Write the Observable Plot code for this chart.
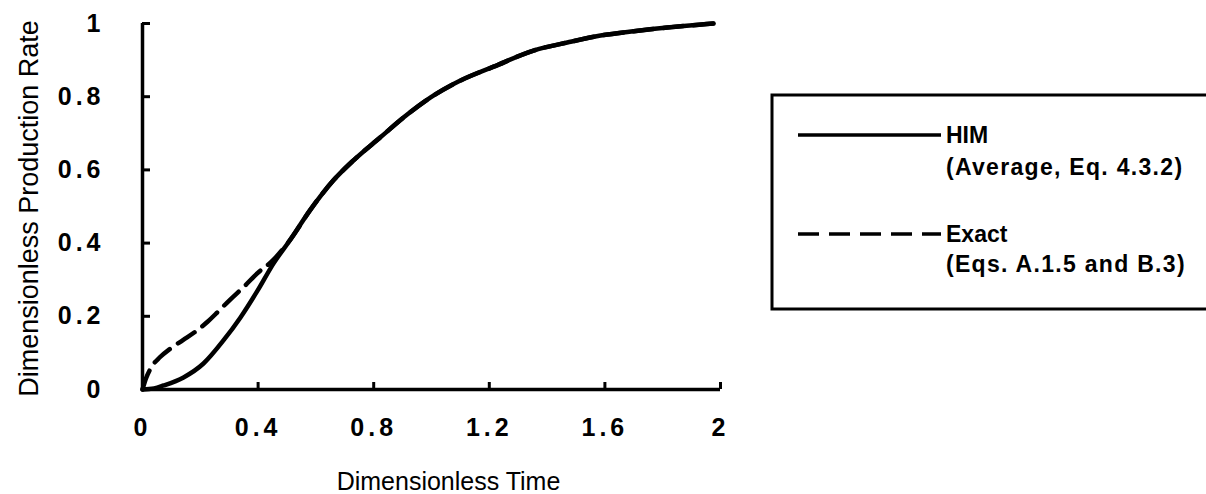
<!DOCTYPE html>
<html>
<head>
<meta charset="utf-8">
<script src="https://cdn.jsdelivr.net/npm/d3@7"></script>
<script src="https://cdn.jsdelivr.net/npm/@observablehq/plot@0.6"></script>
<style>
  html, body { margin: 0; padding: 0; background: #fff; overflow: hidden; }
  #wrap { position: relative; width: 1206px; height: 494px; }
  #wrap svg { position: absolute; left: 0; top: 0; }
  g[aria-label$="tick label"] { letter-spacing: 4px; }
</style>
</head>
<body>
<div id="wrap"></div>
<script>
// HIM solution (average, Eq. 4.3.2)
const himTime = [0, 0.04, 0.073, 0.142, 0.211, 0.28, 0.339, 0.398, 0.453, 0.512, 0.58, 0.66, 0.73, 0.823, 0.903, 0.997, 1.10, 1.215, 1.353, 1.47, 1.585, 1.70, 1.816, 1.976];
const himRate = [0, 0.003, 0.011, 0.033, 0.071, 0.134, 0.197, 0.27, 0.344, 0.41, 0.49, 0.571, 0.626, 0.689, 0.743, 0.798, 0.844, 0.882, 0.926, 0.948, 0.967, 0.979, 0.989, 1.0];

// Exact solution (Eqs. A.1.5 and B.3)
const exactTime = [0, 0.012, 0.03, 0.06, 0.097, 0.14, 0.183, 0.225, 0.263, 0.30, 0.35, 0.398, 0.45, 0.512, 0.58, 0.66, 0.73, 0.823, 0.903, 0.997, 1.10, 1.215, 1.353, 1.47, 1.585, 1.70, 1.816, 1.976];
const exactRate = [0, 0.03, 0.06, 0.088, 0.112, 0.135, 0.158, 0.185, 0.214, 0.243, 0.28, 0.318, 0.352, 0.41, 0.49, 0.571, 0.626, 0.689, 0.743, 0.798, 0.844, 0.882, 0.926, 0.948, 0.967, 0.979, 0.989, 1.0];

const xTicks = [0, 0.4, 0.8, 1.2, 1.6, 2];
const yTicks = [0, 0.2, 0.4, 0.6, 0.8, 1];
const xTitle = "Dimensionless Time";
const yTitle = "Dimensionless Production Rate";
const seriesNames = ["HIM", "Exact"];
const seriesNotes = ["(Average, Eq. 4.3.2)", "(Eqs. A.1.5 and B.3)"];
const seriesDash = [null, "21,10"];

const him = himTime.map((t, i) => ({t, r: himRate[i]}));
const exact = exactTime.map((t, i) => ({t, r: exactRate[i]}));

const font = "'Liberation Sans', Arial, Helvetica, sans-serif";

const chart = Plot.plot({
  width: 1206,
  height: 494,
  marginLeft: 142,
  marginRight: 486,
  marginTop: 23,
  marginBottom: 105,
  style: {fontFamily: font, color: "#000", background: "transparent"},
  x: {domain: [0, 2]},
  y: {domain: [0, 1]},
  marks: [
    Plot.axisX({ticks: xTicks, tickFormat: d => String(d), tickSize: -7, tickPadding: 36,
      strokeWidth: 3, fontSize: 25, fontWeight: "bold", label: null}),
    Plot.axisY({ticks: yTicks, tickFormat: d => String(d), tickSize: -8, tickPadding: 46,
      strokeWidth: 3, fontSize: 25, fontWeight: "bold", label: null}),
    Plot.ruleY([0], {strokeWidth: 3.5}),
    Plot.ruleX([0], {strokeWidth: 3.5}),
    Plot.line(exact, {x: "t", y: "r", curve: "monotone-x", strokeWidth: 4.5, strokeDasharray: "20,10"}),
    Plot.line(him, {x: "t", y: "r", curve: "monotone-x", strokeWidth: 4.5}),
    Plot.text([xTitle], {text: d => d, frameAnchor: "bottom", textAnchor: "middle", dx: 17, dy: 92, fontSize: 25, lineAnchor: "middle"}),
    Plot.text([yTitle], {text: d => d, frameAnchor: "left", textAnchor: "middle", dx: -113, dy: 2, rotate: -90, fontSize: 27, lineAnchor: "middle"})
  ]
});
document.getElementById("wrap").appendChild(chart);

// Legend box to the right of the plot
const legend = d3.select("#wrap").append("svg")
  .attr("width", 1206).attr("height", 494)
  .style("font-family", font);
legend.append("rect")
  .attr("x", 772).attr("y", 95).attr("width", 500).attr("height", 214)
  .attr("fill", "none").attr("stroke", "#000").attr("stroke-width", 3);
const rowY = [135, 234];
const noteY = [167, 264];
seriesNames.forEach((name, i) => {
  legend.append("line")
    .attr("x1", 798).attr("x2", 941).attr("y1", rowY[i]).attr("y2", rowY[i])
    .attr("stroke", "#000").attr("stroke-width", 3.5)
    .attr("stroke-dasharray", seriesDash[i]);
  legend.append("text")
    .attr("x", 946).attr("y", rowY[i]).attr("dy", "0.36em")
    .attr("font-size", 23).attr("font-weight", "bold")
    .text(name);
  legend.append("text")
    .attr("x", 946).attr("y", noteY[i]).attr("dy", "0.36em")
    .attr("font-size", 23).attr("font-weight", "bold")
    .style("letter-spacing", "1.3px")
    .text(seriesNotes[i]);
});
</script>
</body>
</html>
